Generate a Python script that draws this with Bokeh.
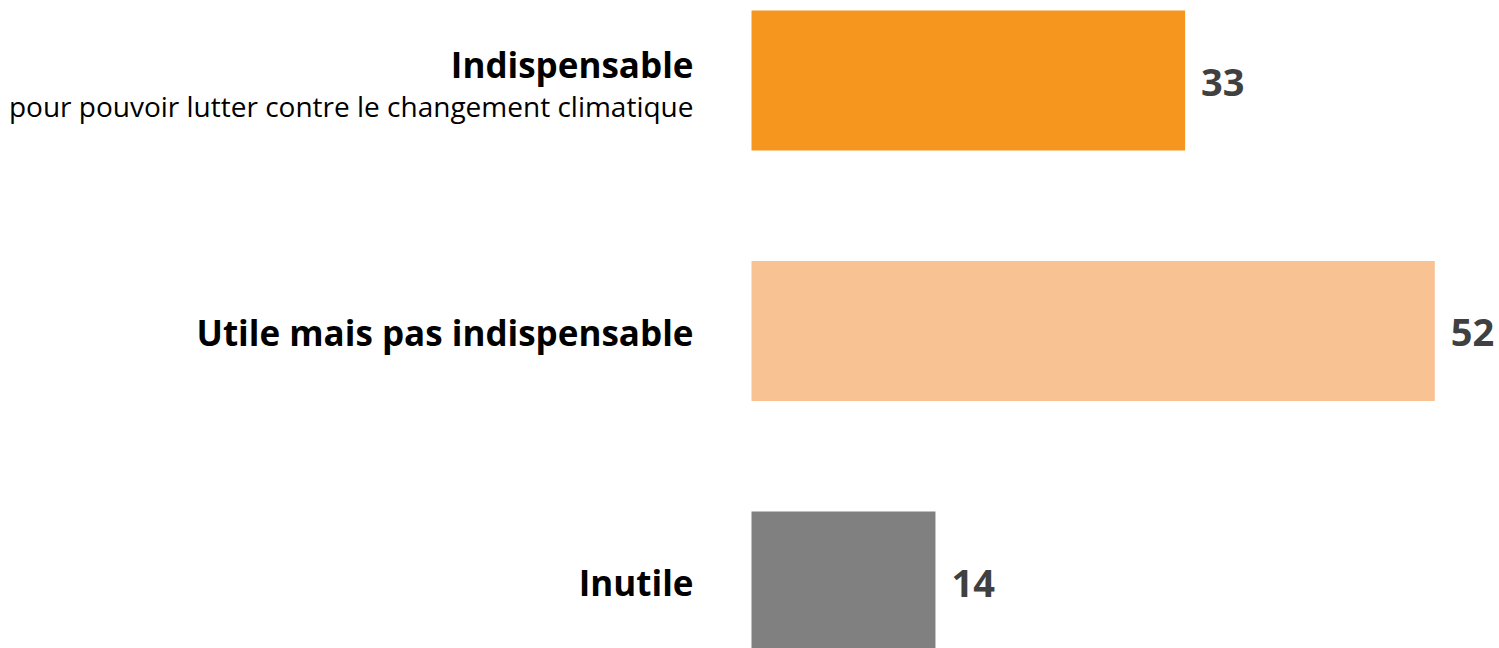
from bokeh.plotting import figure
from bokeh.models import ColumnDataSource, Range1d
from bokeh.core.properties import value
from bokeh.embed import file_html
from bokeh.resources import INLINE

categories = ["Indispensable", "Utile mais pas indispensable", "Inutile"]
subtitles = ["pour pouvoir lutter contre le changement climatique", "", ""]
values = [33, 52, 14]
colors = ["#F7961F", "#F9C293", "#808080"]

n = len(categories)
ypos = [n - 1 - i for i in range(n)]

W, H = 1499, 648
PX = 13.14   # pixels per unit
ZERO = 751   # pixel position of zero
SPACING = 250.5
TOP_C = 80.0

x_start = -ZERO / PX
x_end = (W - ZERO) / PX
y_end = (n - 1) + TOP_C / SPACING
y_start = y_end - H / SPACING

src = ColumnDataSource(dict(
    y=ypos, v=values, color=colors, cat=categories, sub=subtitles,
    lab_off=[-16 if s else 1 for s in subtitles],
    zero=[0] * n,
))

p = figure(width=W, height=H, output_backend="svg", toolbar_location=None,
           x_range=Range1d(x_start, x_end), y_range=Range1d(y_start, y_end),
           min_border=0, outline_line_color=None)
p.axis.visible = False
p.grid.visible = False
p.background_fill_color = "white"

p.hbar(y="y", right="v", left=0, height=140 / SPACING, color="color",
       line_color=None, source=src)

font = value("Open Sans")
p.text(x="zero", y="y", text="cat", source=src, x_offset=-58, y_offset="lab_off",
       text_align="right", text_baseline="alphabetic", text_font=font,
       text_font_style="bold", text_font_size="35px", text_color="#000000")
p.text(x="zero", y="y", text="sub", source=src, x_offset=-58, y_offset=25.5,
       text_align="right", text_baseline="alphabetic", text_font=font,
       text_font_size="28px", text_color="#000000")
p.text(x="v", y="y", text="v", source=src, x_offset=16, y_offset=1.5,
       text_align="left", text_baseline="alphabetic", text_font=font,
       text_font_style="bold", text_font_size="38px", text_color="#404040")

open("out.html", "w").write(file_html(p, INLINE))
